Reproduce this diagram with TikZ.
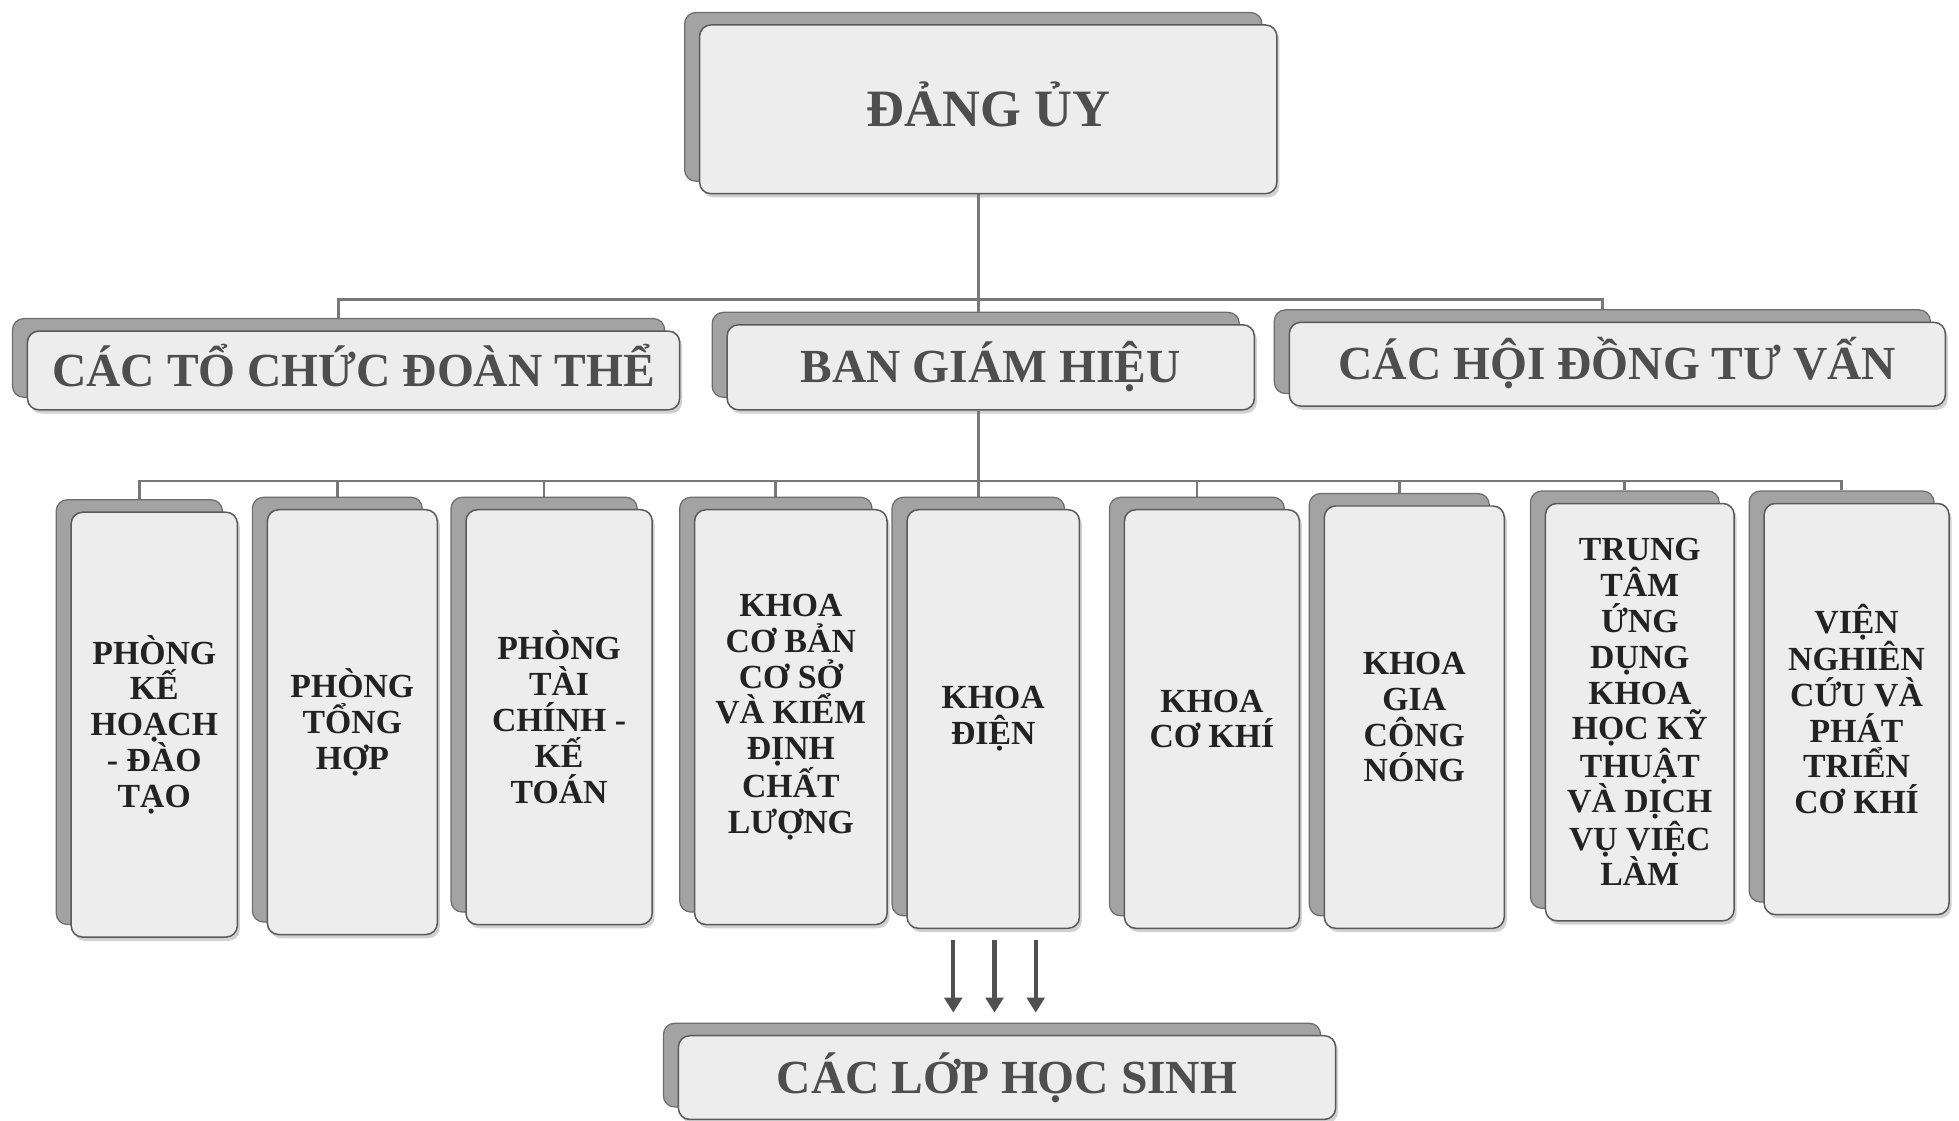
\documentclass[tikz,border=0pt]{standalone}
\usepackage{fontspec}
\setmainfont{Liberation Serif}
\usetikzlibrary{arrows.meta,shadows}

\definecolor{backfill}{RGB}{163,163,163}
\definecolor{backline}{RGB}{110,110,110}
\definecolor{frontfill}{RGB}{237,237,237}
\definecolor{frontline}{RGB}{90,90,90}
\definecolor{headgray}{RGB}{78,78,78}
\definecolor{unitdark}{RGB}{34,34,34}
\definecolor{connline}{RGB}{120,120,120}
\definecolor{arrowgray}{RGB}{80,80,80}

\tikzset{
  backbox/.style={draw=backline, fill=backfill, rounded corners=9pt, line width=1pt, inner sep=0pt},
  frontbox/.style={draw=frontline, fill=frontfill, rounded corners=9pt, line width=1.2pt, inner sep=0pt,
    drop shadow={shadow xshift=2pt, shadow yshift=-3pt, fill=black, opacity=0.18}},
  toptext/.style={font=\fontsize{42}{46}\selectfont\bfseries, text=headgray, text height=31pt, text depth=3pt},
  headtext/.style={font=\fontsize{38}{42}\selectfont\bfseries, text=headgray, text height=28pt, text depth=3pt},
  unittext/.style={font=\fontsize{27}{28.7}\selectfont\bfseries, text=unitdark, align=center},
  conn/.style={draw=connline, line width=2.2pt},
  flow/.style={draw=arrowgray, line width=3.5pt, -{Triangle[width=14pt,length=12pt]}, shorten >=8pt}
}

% #1 name, #2 centre x, #3 centre y, #4 width, #5 height, #6 text style, #7 label
\newcommand{\orgbox}[7]{%
  \node[backbox, minimum width=#4pt, minimum height=#5pt] (#1-b) at (#2-12,#3-10) {};
  \node[frontbox, #6, minimum width=#4pt, minimum height=#5pt] (#1) at (#2,#3) {#7};
}

\begin{document}
\begin{tikzpicture}[x=1pt, y=-1pt]
\clip (0,0) rectangle (1568,897);
\fill[white] (0,0) rectangle (1568,897);

% top level
\orgbox{dang}{791}{87.5}{462}{135}{toptext}{ĐẢNG ỦY}

% second level
\orgbox{tochuc}{283}{296.5}{522}{63}{headtext}{CÁC TỔ CHỨC ĐOÀN THỂ}
\orgbox{bgh}{793}{294}{422}{68}{headtext}{BAN GIÁM HIỆU}
\orgbox{hoidong}{1294.5}{291.5}{525}{67}{headtext}{CÁC HỘI ĐỒNG TƯ VẤN}

% units
\orgbox{u1}{123.5}{580}{133}{340}{unittext}{PHÒNG\\KẾ\\HOẠCH\\- ĐÀO\\TẠO}
\orgbox{u2}{282}{578}{136}{340}{unittext}{PHÒNG\\TỔNG\\HỢP}
\orgbox{u3}{447.5}{574}{149}{332}{unittext}{PHÒNG\\TÀI\\CHÍNH -\\KẾ\\TOÁN}
\orgbox{u4}{633}{574}{154}{332}{unittext}{KHOA\\CƠ BẢN\\CƠ SỞ\\VÀ KIỂM\\ĐỊNH\\CHẤT\\LƯỢNG}
\orgbox{dien}{795}{575.5}{138}{335}{unittext}{KHOA\\ĐIỆN}
\orgbox{u6}{970}{575.5}{140}{335}{unittext}{KHOA\\CƠ KHÍ}
\orgbox{u7}{1132}{574}{144}{338}{unittext}{KHOA\\GIA\\CÔNG\\NÓNG}
\orgbox{u8}{1312.5}{570}{151}{334}{unittext}{TRUNG\\TÂM\\ỨNG\\DỤNG\\KHOA\\HỌC KỸ\\THUẬT\\VÀ DỊCH\\VỤ VIỆC\\LÀM}
\orgbox{u9}{1486}{567.5}{148}{329}{unittext}{VIỆN\\NGHIÊN\\CỨU VÀ\\PHÁT\\TRIỂN\\CƠ KHÍ}

% bottom level
\orgbox{lop}{806}{862.5}{526}{67}{headtext}{CÁC LỚP HỌC SINH}

% connectors, level one to two
\coordinate (bus1) at (783,240);
\draw[conn] (dang.south -| bus1) -- (bgh-b.north -| bus1);
\draw[conn] (tochuc-b.north) |- (bus1) -| (hoidong-b.north);

% connectors, level two to units
\coordinate (bus2) at (783,385);
\draw[conn] (bgh.south -| bus2) -- (dien-b.north -| bus2);
\draw[conn] (u1-b.north) |- (bus2) -| (u9-b.north);
\foreach \u in {u2,u3,u4,u6,u7,u8}
  \draw[conn] (\u-b.north) -- (\u-b.north |- bus2);

% flow towards the classes
\coordinate (a1) at ([xshift=-32pt,yshift=-9pt]dien.south);
\coordinate (a2) at ([xshift=1pt,yshift=-9pt]dien.south);
\coordinate (a3) at ([xshift=34pt,yshift=-9pt]dien.south);
\foreach \a in {a1,a2,a3}
  \draw[flow] (\a) -- (\a |- lop-b.north);
\end{tikzpicture}
\end{document}
